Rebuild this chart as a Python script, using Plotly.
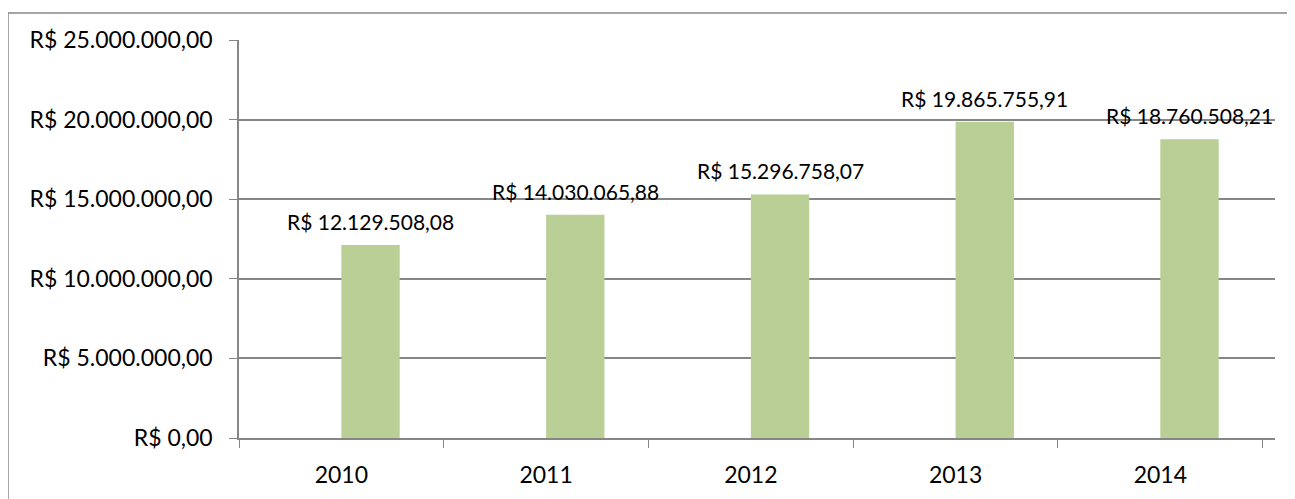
import plotly.graph_objects as go

anos = ['2010', '2011', '2012', '2013', '2014']
valores = [12129508.08, 14030065.88, 15296758.07, 19865755.91, 18760508.21]
y_ticks = [0, 5000000, 10000000, 15000000, 20000000, 25000000]

LARGURA = 0.285


def brl(v):
    s = f"{v:,.2f}".replace(",", "X").replace(".", ",").replace("X", ".")
    return "R$ " + s


fig = go.Figure()

# barras deslocadas para a direita do centro da categoria (como no Excel)
fig.add_trace(go.Bar(
    x=anos,
    y=valores,
    offset=0,
    width=LARGURA,
    marker=dict(color='#B9CF96', line=dict(width=0)),
    hoverinfo='x+y',
))

# rótulos de dados acima das barras
for i, v in enumerate(valores):
    fig.add_annotation(
        x=i + LARGURA / 2, y=v, text=brl(v),
        showarrow=False, yanchor='bottom', yshift=9,
        font=dict(size=21, color='black'),
    )

# moldura externa do gráfico
fig.add_shape(type='rect', xref='paper', yref='paper',
              x0=-0.223, x1=1.2, y0=-0.3, y1=1.068,
              line=dict(color='#868686', width=1.5))

fig.update_layout(
    width=1295, height=499,
    margin=dict(l=231, r=28, t=32, b=69),
    paper_bgcolor='white', plot_bgcolor='white',
    font=dict(family='Lato, Open Sans, sans-serif', size=23, color='black'),
    showlegend=False,
)
fig.update_xaxes(
    showline=True, linecolor='#868686', linewidth=1.5,
    ticks='outside', tickson='boundaries', ticklen=8, tickcolor='#868686',
    showgrid=False, ticklabelstandoff=16,
)
fig.update_yaxes(
    range=[0, 25000000],
    tickvals=y_ticks, ticktext=[brl(v) for v in y_ticks],
    showline=True, linecolor='#868686', linewidth=1.5,
    ticks='outside', ticklen=8, tickcolor='#868686',
    showgrid=True, gridcolor='#868686', gridwidth=1.5,
    zeroline=False, ticklabelstandoff=12,
)

fig.write_html("out.html")
